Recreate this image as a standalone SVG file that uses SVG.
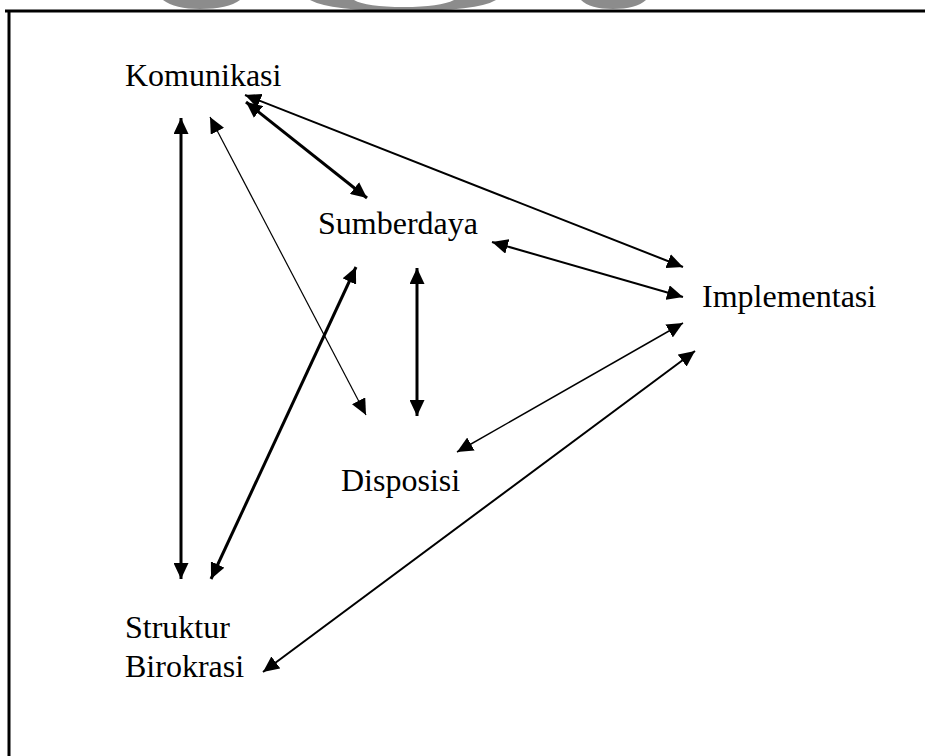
<svg xmlns="http://www.w3.org/2000/svg" width="925" height="756" viewBox="0 0 925 756">
<style>
.lbl{font-family:"Liberation Serif","Times New Roman",serif;font-size:32px;fill:#000}
.c{stroke:#000;fill:none}
.blob{fill:#8c8c8c}
</style>
<defs>
<marker id="ah" markerUnits="userSpaceOnUse" markerWidth="16" markerHeight="15" refX="16" refY="7.5" orient="auto-start-reverse" viewBox="0 0 16 15">
<path d="M0,0 L16,7.5 L0,15 z" fill="#000"/>
</marker>
</defs>
<rect width="925" height="756" fill="#fff"/>
<g id="scan-artifacts">
<path class="blob" d="M163,0 Q175,9 200,9 Q228,9 240,0 z"/>
<path class="blob" d="M310,0 Q330,11 403,11 Q478,11 496,0 L454,0 Q440,7 404,7 Q366,7 354,0 z"/>
<path class="blob" d="M581,0 Q590,9 613,9 Q636,9 646,0 z"/>
</g>
<g id="frame">
<line x1="5" y1="11" x2="925" y2="11" stroke="#000" stroke-width="3"/>
<line x1="9" y1="10" x2="9" y2="756" stroke="#000" stroke-width="3"/>
</g>
<g id="connectors">
<line class="c" x1="181" y1="118" x2="181" y2="579" stroke-width="3" marker-start="url(#ah)" marker-end="url(#ah)"/>
<line class="c" x1="210" y1="117" x2="366" y2="415" stroke-width="1.2" marker-start="url(#ah)" marker-end="url(#ah)"/>
<line class="c" x1="356" y1="267" x2="211" y2="579" stroke-width="3" marker-start="url(#ah)" marker-end="url(#ah)"/>
<line class="c" x1="417" y1="268" x2="417" y2="416" stroke-width="3" marker-start="url(#ah)" marker-end="url(#ah)"/>
<line class="c" x1="246" y1="102" x2="367" y2="198" stroke-width="3" marker-start="url(#ah)" marker-end="url(#ah)"/>
<line class="c" x1="245" y1="95" x2="683" y2="267" stroke-width="2" marker-start="url(#ah)" marker-end="url(#ah)"/>
<line class="c" x1="492" y1="242" x2="683" y2="297" stroke-width="2" marker-start="url(#ah)" marker-end="url(#ah)"/>
<line class="c" x1="683" y1="323" x2="457" y2="452" stroke-width="1.5" marker-start="url(#ah)" marker-end="url(#ah)"/>
<line class="c" x1="695" y1="351" x2="263" y2="672" stroke-width="2" marker-start="url(#ah)" marker-end="url(#ah)"/>
</g>
<g id="komunikasi"><text class="lbl" x="125" y="86">Komunikasi</text></g>
<g id="sumberdaya"><text class="lbl" x="318" y="234">Sumberdaya</text></g>
<g id="implementasi"><text class="lbl" x="702" y="307">Implementasi</text></g>
<g id="disposisi"><text class="lbl" x="341" y="491">Disposisi</text></g>
<g id="struktur-birokrasi"><text class="lbl" x="125" y="638">Struktur</text><text class="lbl" x="125" y="677">Birokrasi</text></g>
</svg>
